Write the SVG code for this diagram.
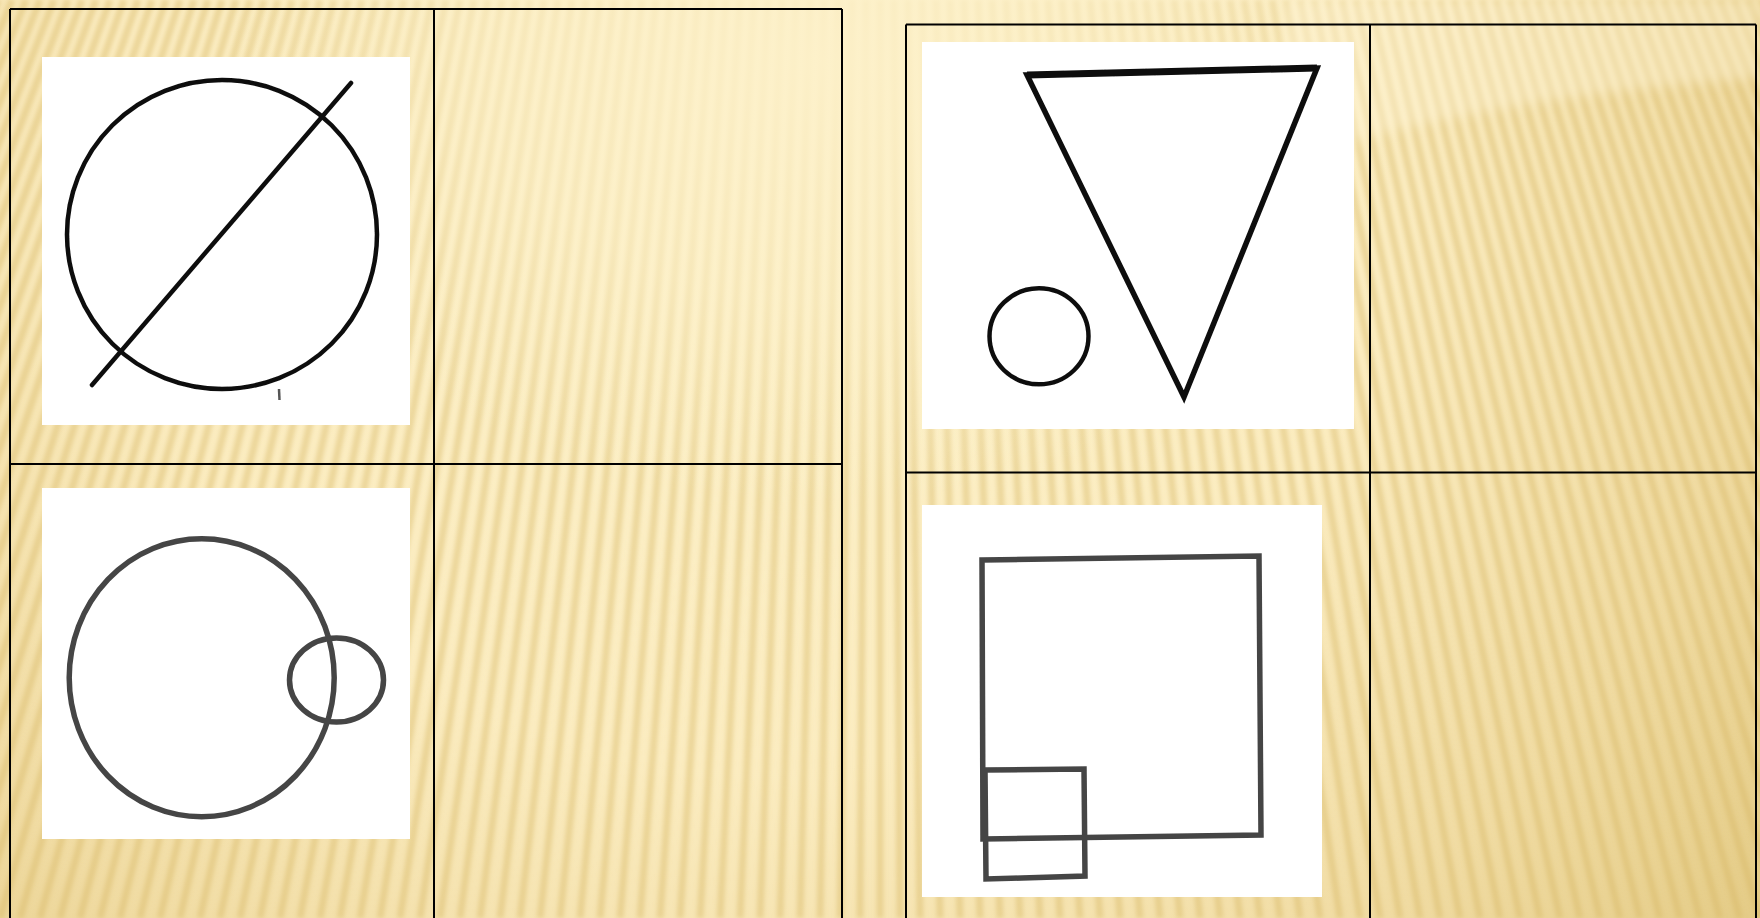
<svg xmlns="http://www.w3.org/2000/svg" width="1760" height="918" viewBox="0 0 1760 918">
  <defs>
    <radialGradient id="bgGrad" gradientUnits="userSpaceOnUse" cx="760" cy="120" r="1300">
      <stop offset="0" stop-color="#FDF2CC"/>
      <stop offset="0.5" stop-color="#FBECC0"/>
      <stop offset="0.78" stop-color="#F0DBA2"/>
      <stop offset="1" stop-color="#E3CA84"/>
    </radialGradient>
    <radialGradient id="fadeTop" gradientUnits="userSpaceOnUse" cx="820" cy="60" r="520" gradientTransform="translate(820 60) scale(1.15 0.85) translate(-820 -60)">
      <stop offset="0" stop-color="#FDF1CA" stop-opacity="0.95"/>
      <stop offset="0.55" stop-color="#FDF1CA" stop-opacity="0.6"/>
      <stop offset="1" stop-color="#FDF1CA" stop-opacity="0"/>
    </radialGradient>
    <filter id="soft" x="-5%" y="-5%" width="110%" height="110%">
      <feGaussianBlur stdDeviation="2.2"/>
    </filter>
    <filter id="scan" x="-5%" y="-5%" width="110%" height="110%">
      <feGaussianBlur stdDeviation="0.55"/>
    </filter>
    <filter id="glow" x="-10%" y="-30%" width="120%" height="160%">
      <feGaussianBlur stdDeviation="6"/>
    </filter>
    <style>
      .grid { stroke:#000; stroke-width:2; fill:none; }
      .photo { fill:#fff; }
      .ink { fill:none; stroke:#111; stroke-width:4.5; stroke-linejoin:round; stroke-linecap:round; }
      .gray { fill:none; stroke:#454545; stroke-width:5.5; stroke-linejoin:miter; }
      .stripes { fill:none; stroke:#D6B462; stroke-opacity:0.42; stroke-width:7; }
    </style>
  </defs>

  <g id="background">
    <rect x="0" y="0" width="1760" height="918" fill="url(#bgGrad)"/>
    <path class="stripes" filter="url(#soft)" d="M-2 0L-380 918M12 0L-360 918M26 0L-340 918M40 0L-320 918M54 0L-300 918M68 0L-280 918M82 0L-260 918M96 0L-240 918M110 0L-220 918M124 0L-200 918M138 0L-180 918M152 0L-160 918M166 0L-140 918M180 0L-120 918M194 0L-100 918M208 0L-80 918M222 0L-60 918M236 0L-40 918M250 0L-20 918M264 0L0 918M278 0L20 918M292 0L40 918M306 0L60 918M320 0L80 918M334 0L100 918M348 0L120 918M362 0L140 918M376 0L160 918M390 0L180 918M404 0L200 918M418 0L220 918M432 0L240 918M446 0L260 918M460 0L280 918M474 0L300 918M488 0L320 918M502 0L340 918M516 0L360 918M530 0L380 918M544 0L400 918M558 0L420 918M572 0L440 918M586 0L460 918M600 0L480 918M614 0L500 918M628 0L520 918M642 0L540 918M656 0L560 918M670 0L580 918M684 0L600 918M698 0L620 918M712 0L640 918M726 0L660 918M740 0L680 918M754 0L700 918M768 0L720 918M782 0L740 918M796 0L760 918M810 0L780 918M824 0L800 918M838 0L820 918M852 0L840 918M866 0L860 918M880 0L880 918M894 0L900 918M908 0L920 918M922 0L940 918M936 0L960 918M950 0L980 918M964 0L1000 918M978 0L1020 918M992 0L1040 918M1006 0L1060 918M1020 0L1080 918M1034 0L1100 918M1048 0L1120 918M1062 0L1140 918M1076 0L1160 918M1090 0L1180 918M1104 0L1200 918M1118 0L1220 918M1132 0L1240 918M1146 0L1260 918M1160 0L1280 918M1174 0L1300 918M1188 0L1320 918M1202 0L1340 918M1216 0L1360 918M1230 0L1380 918M1244 0L1400 918M1258 0L1420 918M1272 0L1440 918M1286 0L1460 918M1300 0L1480 918M1314 0L1500 918M1328 0L1520 918M1342 0L1540 918M1356 0L1560 918M1370 0L1580 918M1384 0L1600 918M1398 0L1620 918M1412 0L1640 918M1426 0L1660 918M1440 0L1680 918M1454 0L1700 918M1468 0L1720 918M1482 0L1740 918M1496 0L1760 918M1510 0L1780 918M1524 0L1800 918M1538 0L1820 918M1552 0L1840 918M1566 0L1860 918M1580 0L1880 918M1594 0L1900 918M1608 0L1920 918M1622 0L1940 918M1636 0L1960 918M1650 0L1980 918M1664 0L2000 918M1678 0L2020 918M1692 0L2040 918M1706 0L2060 918M1720 0L2080 918M1734 0L2100 918M1748 0L2120 918M1762 0L2140 918"/>
    <rect x="0" y="0" width="1760" height="918" fill="url(#fadeTop)"/>
    <path d="M1285 0L1285 158C1400 128 1520 95 1760 78L1760 0Z" fill="#FFF5D6" fill-opacity="0.4" filter="url(#glow)"/>
  </g>

  <g id="table-grid">
    <path class="grid" d="M10 9H842M10 9V918M842 9V918M434 9V918M10 464H842"/>
    <path class="grid" d="M906 24.5H1756M906 24.5V918M1756 24.5V918M1370 24.5V918M906 472.5H1756"/>
  </g>

  <g id="figure-circle-line">
    <rect class="photo" x="42" y="57" width="368" height="368"/>
    <g filter="url(#scan)">
      <ellipse class="ink" cx="222" cy="234.5" rx="155" ry="154.5"/>
      <line class="ink" x1="92" y1="385" x2="351" y2="83"/>
      <line x1="279" y1="389" x2="279.5" y2="400" stroke="#555" stroke-width="2.5"/>
    </g>
  </g>

  <g id="figure-two-circles">
    <rect class="photo" x="42" y="488" width="368" height="351"/>
    <g filter="url(#scan)">
      <ellipse class="gray" cx="201.7" cy="677.7" rx="132.5" ry="139"/>
      <ellipse class="gray" cx="336.5" cy="680" rx="47" ry="42"/>
    </g>
  </g>

  <g id="figure-triangle-circle">
    <rect class="photo" x="922" y="42" width="432" height="387"/>
    <g filter="url(#scan)">
      <path d="M1027 75L1317 68L1184 397Z" fill="none" stroke="#111" stroke-width="5.5" stroke-linejoin="miter" stroke-miterlimit="4"/>
      <path d="M1027 75L1317 68" fill="none" stroke="#111" stroke-width="7"/>
      <ellipse class="ink" cx="1039" cy="336.3" rx="49.5" ry="48"/>
    </g>
  </g>

  <g id="figure-two-squares">
    <rect class="photo" x="922" y="505" width="400" height="392"/>
    <g filter="url(#scan)">
      <path class="gray" stroke-width="7" d="M982 560L1259 556L1261 835L983 839Z"/>
      <path class="gray" stroke-width="7" d="M985 770L1084 769L1085 876L986 879Z"/>
    </g>
  </g>
</svg>
